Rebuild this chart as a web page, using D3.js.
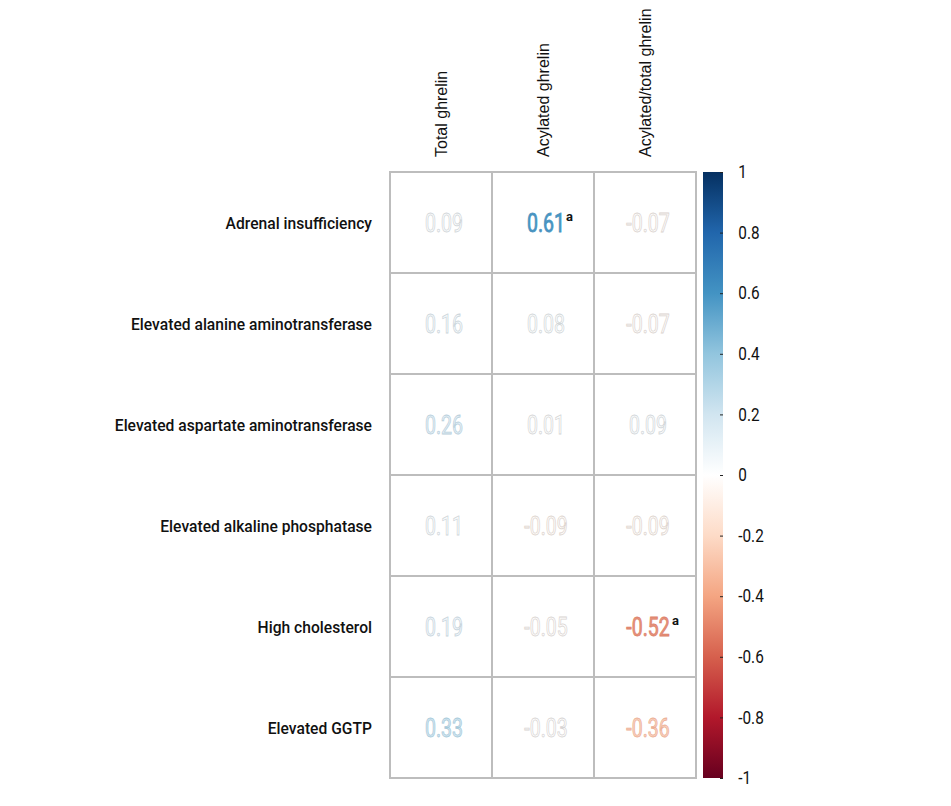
<!DOCTYPE html>
<html>
<head>
<meta charset="utf-8">
<script src="https://cdn.jsdelivr.net/npm/d3@7"></script>
<style>
  body { margin: 0; background: #fff; }
  .cond { font-family: Roboto, 'DejaVu Sans', sans-serif; }
</style>
</head>
<body>
<div id="chart"></div>
<script>
// row / column names and correlation values
var rows = ["Adrenal insufficiency", "Elevated alanine aminotransferase",
            "Elevated aspartate aminotransferase", "Elevated alkaline phosphatase",
            "High cholesterol", "Elevated GGTP"];
var cols = ["Total ghrelin", "Acylated ghrelin", "Acylated/total ghrelin"];
var totalGhrelin   = [0.09, 0.16, 0.26, 0.11, 0.19, 0.33];
var acylGhrelin    = [0.61, 0.08, 0.01, -0.09, -0.05, -0.03];
var ratioGhrelin   = [-0.07, -0.07, 0.09, -0.09, -0.52, -0.36];
// significance marks ("a")
var sigTotal = [false, false, false, false, false, false];
var sigAcyl  = [true, false, false, false, false, false];
var sigRatio = [false, false, false, false, true, false];
var legendTicks = [1, 0.8, 0.6, 0.4, 0.2, 0, -0.2, -0.4, -0.6, -0.8, -1];
// corrplot RdBu palette, from -1 to 1
var palette = ["#67001F", "#B2182B", "#D6604D", "#F4A582", "#FDDBC7", "#FFFFFF",
               "#D1E5F0", "#92C5DE", "#4393C3", "#2166AC", "#053061"];

var W = 951, H = 806;
var gridLeft = 390, gridTop = 172, cellW = 102, cellH = 101;

var series = [totalGhrelin, acylGhrelin, ratioGhrelin];
var sigs = [sigTotal, sigAcyl, sigRatio];
var cells = [];
rows.forEach(function(r, i) {
  cols.forEach(function(c, j) {
    cells.push({row: r, col: c, v: series[j][i], sig: sigs[j][i]});
  });
});

var x = d3.scaleBand().domain(cols).range([gridLeft, gridLeft + cellW * cols.length]);
var y = d3.scaleBand().domain(rows).range([gridTop, gridTop + cellH * rows.length]);
var color = d3.scaleLinear()
    .domain(d3.range(palette.length).map(function(i) { return -1 + i * 0.2; }))
    .range(palette)
    .interpolate(d3.interpolateRgb);

var svg = d3.select("#chart").append("svg")
    .attr("width", W)
    .attr("height", H);

// cell borders
svg.append("g").selectAll("rect")
  .data(cells)
  .enter().append("rect")
    .attr("x", function(d) { return x(d.col); })
    .attr("y", function(d) { return y(d.row); })
    .attr("width", x.bandwidth())
    .attr("height", y.bandwidth())
    .attr("fill", "#fff")
    .attr("stroke", "#bdbdbd")
    .attr("stroke-width", 2);

// values (condensed by squeezing horizontally)
var vals = svg.append("g").attr("class", "cond").selectAll("g")
  .data(cells)
  .enter().append("g")
    .attr("transform", function(d) {
      return "translate(" + (x(d.col) + x.bandwidth() / 2 + 3) + "," + (y(d.row) + y.bandwidth() / 2 + 9) + ")";
    });

vals.append("text")
    .attr("transform", "scale(0.78,1)")
    .attr("text-anchor", "middle")
    .attr("font-size", 25)
    .attr("fill", function(d) {
      return d3.interpolateRgb("#fff", color(d.v))(Math.min(1, Math.abs(d.v) * 1.6));
    })
    .attr("stroke", function(d) {
      return d3.interpolateRgb(color(d.v), "#aaa")(Math.max(0.1, 0.5 - Math.abs(d.v)));
    })
    .attr("stroke-width", 0.8)
    .text(function(d) { return d3.format(".2f")(d.v).replace("−", "-"); });

vals.filter(function(d) { return d.sig; }).append("text")
    .attr("x", function(d) { return d.v < 0 ? 24 : 20; })
    .attr("y", -11)
    .attr("font-size", 13)
    .attr("font-weight", "bold")
    .attr("fill", "#111")
    .text("a");

// row labels
svg.append("g").attr("class", "cond").selectAll("text")
  .data(rows)
  .enter().append("text")
    .attr("transform", function(d) {
      return "translate(372," + (y(d) + y.bandwidth() / 2 + 6) + ") scale(0.92,1)";
    })
    .attr("text-anchor", "end")
    .attr("font-size", 17)
    .attr("font-weight", 500)
    .attr("fill", "#111")
    .text(function(d) { return d; });

// column labels
svg.append("g").selectAll("text")
  .data(cols)
  .enter().append("text")
    .attr("transform", function(d) {
      return "translate(" + (x(d) + x.bandwidth() / 2 + 6) + ",157) rotate(-90)";
    })
    .attr("font-family", "'Liberation Sans', Arial, sans-serif")
    .attr("font-size", 16)
    .attr("fill", "#111")
    .text(function(d) { return d; });

// colour legend
var defs = svg.append("defs");
var grad = defs.append("linearGradient")
    .attr("id", "cbar")
    .attr("x1", 0).attr("y1", 1).attr("x2", 0).attr("y2", 0);
grad.selectAll("stop")
  .data(palette)
  .enter().append("stop")
    .attr("offset", function(d, i) { return i / (palette.length - 1); })
    .attr("stop-color", function(d) { return d; });

var ly = d3.scaleLinear().domain([-1, 1]).range([gridTop + cellH * rows.length, gridTop]);
svg.append("rect")
    .attr("x", 703)
    .attr("y", ly(1))
    .attr("width", 20)
    .attr("height", ly(-1) - ly(1))
    .attr("fill", "url(#cbar)");

var legAxis = svg.append("g")
    .attr("class", "cond")
    .attr("transform", "translate(723,0)")
    .call(d3.axisRight(ly).tickValues(legendTicks).tickSize(3).tickPadding(12)
          .tickFormat(function(d) { return String(d).replace("−", "-"); }));
legAxis.attr("font-family", null);
legAxis.select(".domain").remove();
legAxis.selectAll("line").attr("stroke", "#222").attr("transform", "translate(-3,0)");
legAxis.selectAll("text")
    .attr("x", 18)
    .attr("transform", "scale(0.85,1)")
    .attr("font-size", 18)
    .attr("fill", "#111");
</script>
</body>
</html>
